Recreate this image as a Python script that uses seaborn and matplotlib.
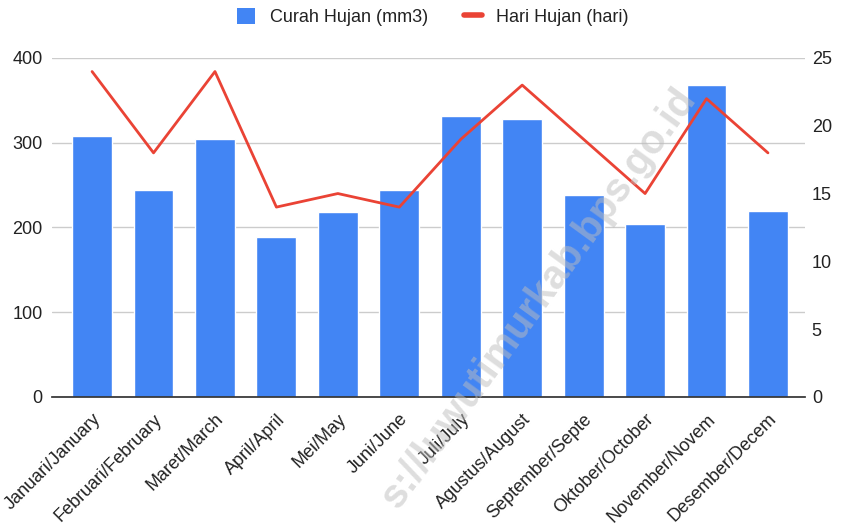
import numpy as np
import pandas as pd
import matplotlib
matplotlib.use("Agg")
import matplotlib.pyplot as plt
import seaborn as sns
from matplotlib.patches import Patch
from matplotlib.lines import Line2D

# Data
bulan = ["Januari/January", "Februari/February", "Maret/March", "April/April",
         "Mei/May", "Juni/June", "Juli/July", "Agustus/August",
         "September/Septe", "Oktober/October", "November/Novem", "Desember/Decem"]
curah_hujan = [308, 244, 304, 189, 218, 244, 332, 328, 238, 204, 368, 219]
hari_hujan = [24, 18, 24, 14, 15, 14, 19, 23, 19, 15, 22, 18]

df = pd.DataFrame({"Bulan": bulan, "Curah": curah_hujan,
                   "Hari": hari_hujan, "pos": np.arange(len(bulan))})

sns.set_theme(style="white")
plt.rcParams["font.family"] = ["Liberation Sans", "DejaVu Sans"]

biru = "#4285F4"
merah = "#EA4335"
teks = "#222222"

fig = plt.figure(figsize=(8.41, 5.32), dpi=100)
ax = fig.add_axes([0.062, 0.254, 0.895, 0.637])

sns.barplot(data=df, x="Bulan", y="Curah", color=biru, saturation=1,
            width=0.65, ax=ax, zorder=2)
ax.set_ylim(0, 400)
ax.set_yticks([0, 100, 200, 300, 400])
ax.set_xlim(-0.65, 11.6)
ax.grid(axis="y", color="#cccccc", linewidth=1, zorder=0)
ax.set_xlabel("")
ax.set_ylabel("")
for s in ["top", "left", "right"]:
    ax.spines[s].set_visible(False)
ax.spines["bottom"].set_color("#333333")
ax.spines["bottom"].set_zorder(5)
ax.tick_params(axis="both", length=0, labelsize=13, colors=teks)
ax.tick_params(axis="y", pad=7)
ax.tick_params(axis="x", pad=10)
ax.set_xticks(range(len(bulan)))
ax.set_xticklabels(bulan, rotation=45, ha="right", rotation_mode="anchor",
                   fontsize=13, color=teks)

ax2 = ax.twinx()
sns.lineplot(data=df, x="pos", y="Hari", color=merah, linewidth=2, ax=ax2)
ax2.set_ylim(0, 25)
ax2.set_yticks([0, 5, 10, 15, 20, 25])
ax2.set_xlim(-0.65, 11.6)
ax2.set_ylabel("")
ax2.set_xlabel("")
for s in ["top", "left", "right", "bottom"]:
    ax2.spines[s].set_visible(False)
ax2.tick_params(axis="y", length=0, labelsize=13, colors=teks, pad=5)

handles = [Patch(facecolor=biru, edgecolor="none"),
           Line2D([0], [0], color=merah, linewidth=4)]
fig.legend(handles, ["Curah Hujan (mm3)", "Hari Hujan (hari)"],
           loc="center", bbox_to_anchor=(0.515, 0.968), ncol=2,
           frameon=False, fontsize=13, handlelength=1.0, handleheight=1.0,
           columnspacing=2.0, handletextpad=0.8, labelcolor=teks)

# watermark
fig.text(0.64, 0.44, "s://luwutimurkab.bps.go.id", fontsize=29,
         fontweight="bold", color="#bdbdbd", alpha=0.5, rotation=54,
         ha="center", va="center", zorder=10)

fig.savefig("out.png", dpi=100)
